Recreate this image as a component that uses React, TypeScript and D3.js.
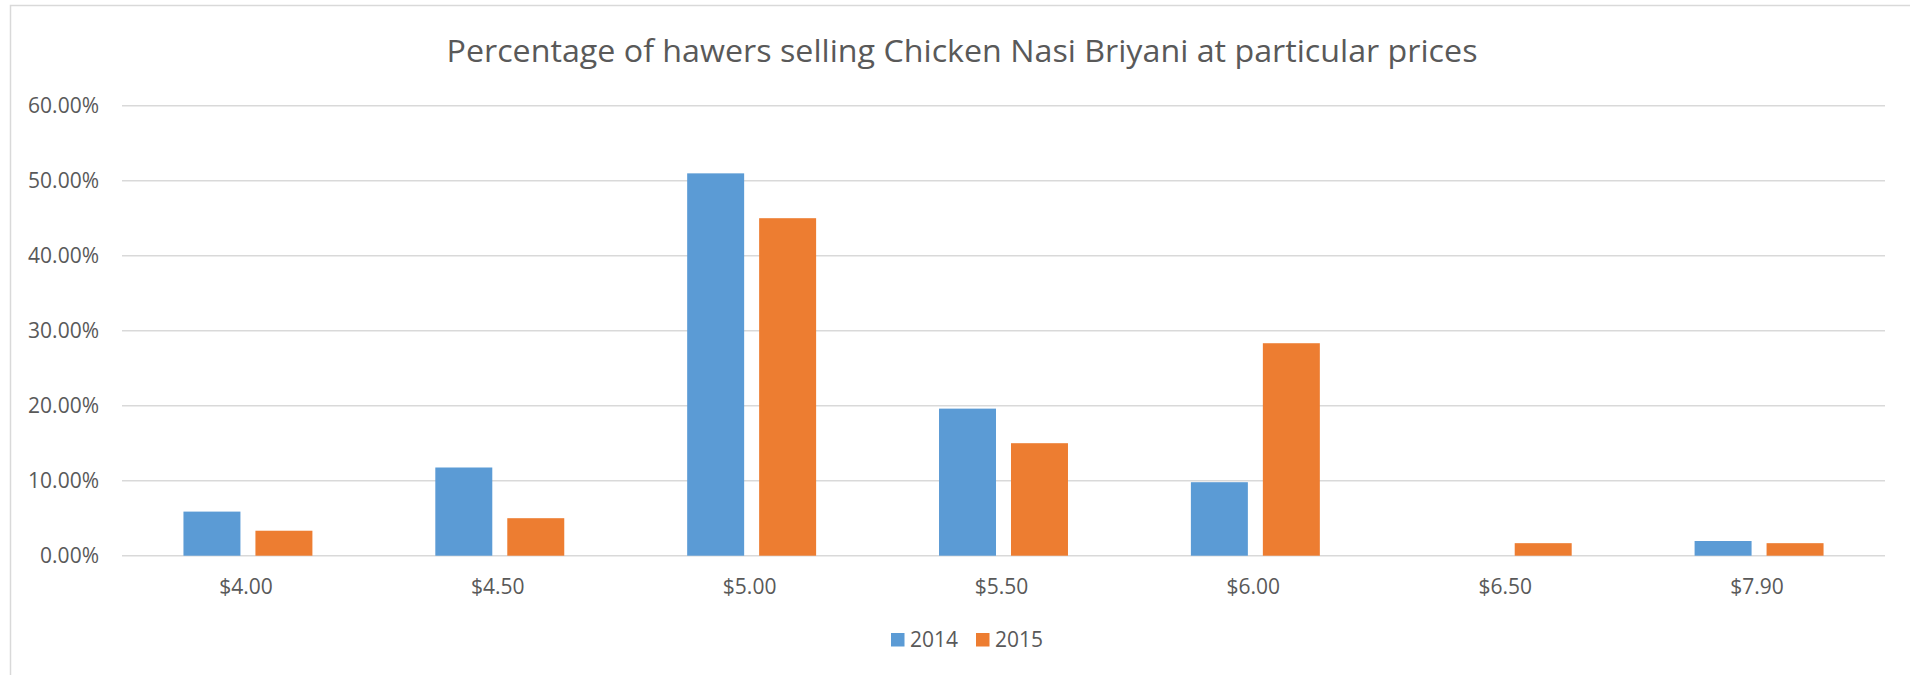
import React from "react";
import * as d3 from "d3";

const title = "Percentage of hawers selling Chicken Nasi Briyani at particular prices";
const categories = ["$4.00", "$4.50", "$5.00", "$5.50", "$6.00", "$6.50", "$7.90"];
const seriesNames = ["2014", "2015"];
const values2014 = [5.88, 11.76, 50.98, 19.61, 9.8, 0, 1.96];
const values2015 = [3.33, 5.0, 45.0, 15.0, 28.33, 1.67, 1.67];
const yTicks = [0, 10, 20, 30, 40, 50, 60];
const colors = ["#5B9BD5", "#ED7D31"];

const W = 1910;
const H = 675;
const FONT = "'Open Sans', 'Noto Sans', sans-serif";
const TEXT = "#595959";
const GRID = "#D9D9D9";

export default function App() {
  const plot = { left: 122, right: 1885, top: 105.7, bottom: 555.7 };
  const x0 = d3
    .scaleBand<string>()
    .domain(categories)
    .range([plot.left, plot.right])
    .paddingInner(0.488)
    .paddingOuter(0.244);
  const x1 = d3
    .scaleBand<string>()
    .domain(seriesNames)
    .range([0, x0.bandwidth()])
    .paddingInner(0.2083)
    .paddingOuter(0);
  const y = d3.scaleLinear().domain([0, 60]).range([plot.bottom, plot.top]);
  const seriesValues = [values2014, values2015];

  return (
    <div style={{ position: "absolute", left: 0, top: 0, width: W, height: H, overflow: "hidden" }}>
      <svg width={W} height={H} style={{ display: "block", background: "#fff" }}>
        <rect x={10.5} y={5.5} width={W + 20} height={H + 20} fill="#fff" stroke={GRID} strokeWidth={1.5} />
        <text
          x={962}
          y={62}
          textAnchor="middle"
          fontFamily={FONT}
          fontSize={31}
          fill={TEXT}
          textLength={1031}
          lengthAdjust="spacingAndGlyphs"
        >
          {title}
        </text>
        {yTicks.map((t) => (
          <g key={t}>
            <line x1={plot.left} x2={plot.right} y1={y(t)} y2={y(t)} stroke={GRID} strokeWidth={1.5} />
            <text x={99} y={y(t) + 7.5} textAnchor="end" fontFamily={FONT} fontSize={21} fill={TEXT}>
              {d3.format(".2f")(t) + "%"}
            </text>
          </g>
        ))}
        {categories.map((c, i) => (
          <g key={c}>
            {seriesNames.map((s, j) => {
              const v = seriesValues[j][i];
              if (!v) return null;
              return (
                <rect
                  key={s}
                  x={(x0(c) as number) + (x1(s) as number)}
                  y={y(v)}
                  width={x1.bandwidth()}
                  height={y(0) - y(v)}
                  fill={colors[j]}
                />
              );
            })}
            <text
              x={(x0(c) as number) + x0.bandwidth() / 2 - 2}
              y={594}
              textAnchor="middle"
              fontFamily={FONT}
              fontSize={21}
              fill={TEXT}
            >
              {c}
            </text>
          </g>
        ))}
        {seriesNames.map((s, j) => {
          const lx = 891 + j * 85;
          return (
            <g key={s}>
              <rect x={lx} y={633} width={13.5} height={13.5} fill={colors[j]} />
              <text x={lx + 19} y={647} fontFamily={FONT} fontSize={21} fill={TEXT}>
                {s}
              </text>
            </g>
          );
        })}
      </svg>
    </div>
  );
}
